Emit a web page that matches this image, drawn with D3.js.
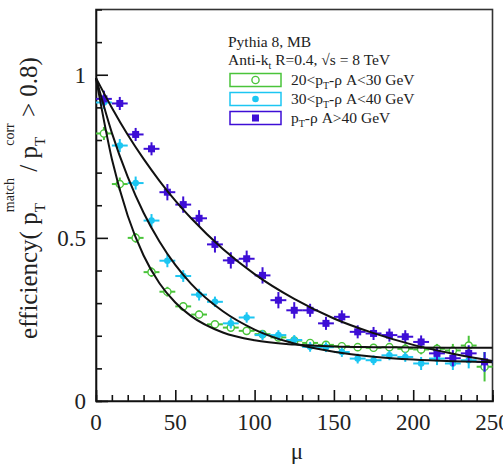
<!DOCTYPE html>
<html>
<head>
<meta charset="utf-8">
<script src="https://cdn.jsdelivr.net/npm/d3@7"></script>
<style>
  body { margin: 0; background: #fff; }
  text { font-family: "Liberation Serif", "DejaVu Serif", serif; }
</style>
</head>
<body>
<svg id="chart" width="503" height="468"></svg>
<script>
// mu bin centres
const muBins = [5, 15, 25, 35, 45, 55, 65, 75, 85, 95, 105, 115, 125, 135, 145, 155, 165, 175, 185, 195, 205, 215, 225, 235, 245];

// efficiency per bin
const eff2030 = [0.82, 0.665, 0.50, 0.395, 0.335, 0.29, 0.265, 0.235, 0.225, 0.215, 0.205, 0.195, 0.185, 0.178, 0.172, 0.168, 0.165, 0.163, 0.165, 0.160, 0.158, 0.160, 0.155, 0.170, 0.105];
const eff3040 = [0.915, 0.783, 0.668, 0.553, 0.43, 0.383, 0.326, 0.304, 0.238, 0.256, 0.202, 0.202, 0.187, 0.166, 0.165, 0.150, 0.130, 0.125, 0.140, 0.135, 0.115, 0.130, 0.115, 0.125, 0.12];
const eff40 = [0.926, 0.912, 0.817, 0.773, 0.64, 0.602, 0.56, 0.48, 0.431, 0.436, 0.385, 0.309, 0.278, 0.278, 0.238, 0.258, 0.212, 0.207, 0.202, 0.197, 0.181, 0.146, 0.131, 0.146, 0.12];

const err2030 = [0.02, 0.02, 0.015, 0.015, 0.015, 0.012, 0.012, 0.01, 0.01, 0.01, 0.01, 0.01, 0.01, 0.01, 0.01, 0.012, 0.012, 0.012, 0.012, 0.015, 0.015, 0.015, 0.02, 0.03, 0.045];
const err3040 = [0.02, 0.02, 0.02, 0.02, 0.02, 0.018, 0.018, 0.016, 0.016, 0.016, 0.015, 0.015, 0.015, 0.015, 0.015, 0.015, 0.015, 0.015, 0.015, 0.015, 0.02, 0.02, 0.02, 0.025, 0.03];
const err40 = [0.025, 0.02, 0.02, 0.02, 0.025, 0.025, 0.025, 0.025, 0.025, 0.025, 0.025, 0.025, 0.025, 0.02, 0.02, 0.02, 0.02, 0.02, 0.02, 0.02, 0.02, 0.02, 0.025, 0.025, 0.03];

// fit curves
const fitMu = [0, 10, 20, 30, 40, 50, 60, 80, 100, 125, 150, 175, 200, 225, 250];
const fit2030 = [0.990, 0.742, 0.568, 0.446, 0.361, 0.302, 0.260, 0.210, 0.186, 0.173, 0.167, 0.165, 0.164, 0.163, 0.163];
const fit3040 = [0.990, 0.822, 0.687, 0.577, 0.489, 0.417, 0.359, 0.275, 0.219, 0.176, 0.151, 0.136, 0.127, 0.122, 0.119];
const fit40 = [0.990, 0.899, 0.816, 0.742, 0.675, 0.614, 0.560, 0.466, 0.389, 0.313, 0.253, 0.208, 0.172, 0.145, 0.123];

const xTicks = [0, 50, 100, 150, 200, 250];
const yTicks = [0, 0.5, 1];

const colors = {
    s2030: "#4ac43a",
    s3040: "#1cc6f2",
    s40: "#3d0ed6",
    axis: "#111"
};

const svg = d3.select("#chart");
const x = d3.scaleLinear().domain([0, 250]).range([96, 492.5]);
const y = d3.scaleLinear().domain([0, 1.2]).range([401, 9.5]);

// frame
svg.append("rect")
    .attr("x", x(0)).attr("y", y(1.2))
    .attr("width", x(250) - x(0)).attr("height", y(0) - y(1.2))
    .attr("fill", "none").attr("stroke", "#333").attr("stroke-width", 1.6);

// axes with inward ticks
const xAxis = svg.append("g").attr("transform", `translate(0,${y(0)})`);
xAxis.call(d3.axisBottom(x).tickValues(d3.range(0, 251, 10)).tickSize(-6).tickFormat(""));
xAxis.call(g => g.selectAll(".tick").filter(d => d % 50 === 0).select("line").attr("y2", -11));
xAxis.selectAll("line,path").attr("stroke", colors.axis).attr("stroke-width", 1.6);

const yAxis = svg.append("g").attr("transform", `translate(${x(0)},0)`);
yAxis.call(d3.axisLeft(y).tickValues(d3.range(0, 12).map(i => i / 10)).tickSize(-6).tickFormat(""));
yAxis.call(g => g.selectAll(".tick").filter(d => Math.abs(d * 2 - Math.round(d * 2)) < 1e-6).select("line").attr("x2", 12));
yAxis.selectAll("line,path").attr("stroke", colors.axis).attr("stroke-width", 1.6);

// tick labels
svg.append("g").selectAll("text").data(xTicks).enter().append("text")
    .attr("x", d => x(d)).attr("y", y(0) + 29)
    .attr("text-anchor", "middle").attr("font-size", 23).attr("fill", "#222")
    .text(d => d);
svg.append("g").selectAll("text").data(yTicks).enter().append("text")
    .attr("x", x(0) - 10).attr("y", d => y(d) + 8)
    .attr("text-anchor", "end").attr("font-size", 23).attr("fill", "#222")
    .text(d => d);

// axis titles
svg.append("text").attr("x", 297).attr("y", 459)
    .attr("text-anchor", "middle").attr("font-size", 23).attr("fill", "#222").text("μ");

const yt = svg.append("text")
    .attr("transform", "translate(37,198) rotate(-90)")
    .attr("text-anchor", "middle").attr("font-size", 25).attr("fill", "#222");
yt.append("tspan").text("efficiency( p");
yt.append("tspan").attr("font-size", 15).attr("dy", 8).text("T");
yt.append("tspan").attr("font-size", 14).attr("dx", -9).attr("dy", -31).text("match");
yt.append("tspan").attr("dy", 23).text("  /  p");
yt.append("tspan").attr("font-size", 15).attr("dy", 8).text("T");
yt.append("tspan").attr("font-size", 14).attr("dx", -9).attr("dy", -31).text("corr");
yt.append("tspan").attr("dy", 23).text("  > 0.8)");

// series
const series = [
    { vals: eff2030, errs: err2030, fit: fit2030, color: colors.s2030, shape: "open" },
    { vals: eff3040, errs: err3040, fit: fit3040, color: colors.s3040, shape: "dot" },
    { vals: eff40, errs: err40, fit: fit40, color: colors.s40, shape: "square" }
];

function drawMarker(g, shape, color, cx, cy) {
    if (shape === "open") {
        g.append("circle").attr("cx", cx).attr("cy", cy).attr("r", 3.6)
            .attr("fill", "#fff").attr("stroke", color).attr("stroke-width", 1.4);
    } else if (shape === "dot") {
        g.append("circle").attr("cx", cx).attr("cy", cy).attr("r", 3.3).attr("fill", color);
    } else {
        g.append("rect").attr("x", cx - 3.5).attr("y", cy - 3.5)
            .attr("width", 7).attr("height", 7).attr("fill", color);
    }
}

series.forEach(s => {
    const g = svg.append("g");
    muBins.forEach((m, i) => {
        const v = s.vals[i], e = s.errs[i];
        g.append("line").attr("x1", x(m - 5)).attr("x2", x(m + 5))
            .attr("y1", y(v)).attr("y2", y(v))
            .attr("stroke", s.color).attr("stroke-width", 2);
        g.append("line").attr("x1", x(m)).attr("x2", x(m))
            .attr("y1", y(v - e)).attr("y2", y(v + e))
            .attr("stroke", s.color).attr("stroke-width", 2);
        drawMarker(g, s.shape, s.color, x(m), y(v));
    });
});

// fit curves
const line = d3.line()
    .x((d, i) => x(fitMu[i]))
    .y(d => y(d))
    .curve(d3.curveMonotoneX);
series.forEach(s => {
    svg.append("path").datum(s.fit)
        .attr("fill", "none").attr("stroke", "#111").attr("stroke-width", 2)
        .attr("d", line);
});

// legend
const lg = svg.append("g").attr("font-size", 15.5).attr("fill", "#222");
lg.append("text").attr("x", 228).attr("y", 47).text("Pythia 8, MB");
const t2 = lg.append("text").attr("x", 228).attr("y", 65);
t2.append("tspan").text("Anti-k");
t2.append("tspan").attr("font-size", 10).attr("dy", 4).text("t");
t2.append("tspan").attr("dy", -4).text(" R=0.4, √s = 8 TeV");

const legendRows = [
    { color: colors.s2030, shape: "open", lo: "20<p", hi: "-ρ A<30 GeV" },
    { color: colors.s3040, shape: "dot", lo: "30<p", hi: "-ρ A<40 GeV" },
    { color: colors.s40, shape: "square", lo: "p", hi: "-ρ A>40 GeV" }
];
legendRows.forEach((r, i) => {
    const yy = 80 + i * 19;
    lg.append("rect").attr("x", 230).attr("y", yy - 6.5).attr("width", 51).attr("height", 13)
        .attr("fill", "#fff").attr("stroke", r.color).attr("stroke-width", 1.5);
    drawMarker(lg, r.shape, r.color, 255.5, yy);
    const t = lg.append("text").attr("x", 291).attr("y", yy + 5);
    t.append("tspan").text(r.lo);
    t.append("tspan").attr("font-size", 10).attr("dy", 4).text("T");
    t.append("tspan").attr("dy", -4).text(r.hi);
});
</script>
</body>
</html>
